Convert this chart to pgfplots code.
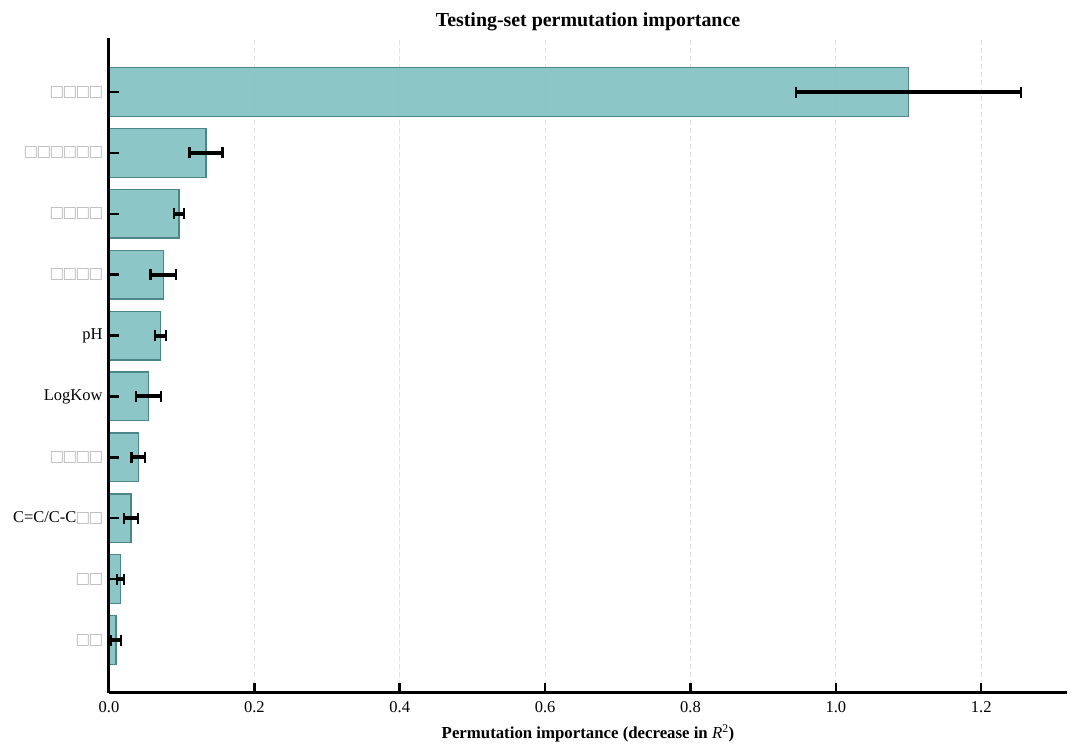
\documentclass[border=0pt]{standalone}
\usepackage{pgfplots}
\pgfplotsset{compat=1.18}
\usepackage{fontspec}
\setmainfont{Liberation Serif}
\newfontfamily\dejavu{DejaVu Sans}
\definecolor{barfill}{RGB}{128,192,192}
\definecolor{baredge}{RGB}{74,134,138}
\definecolor{gridc}{RGB}{226,226,226}
\definecolor{tofuc}{RGB}{185,185,185}
\newcommand{\tofu}{\makebox[13pt]{\textcolor{tofuc}{\dejavu\fontsize{15.5}{15}\selectfont □}}}
\begin{document}
\begin{tikzpicture}
\path[use as bounding box] (0,0) rectangle (1080pt,755pt);
\begin{axis}[
  at={(109pt,62pt)}, anchor=south west,
  scale only axis, width=958pt, height=655pt,
  xmin=0, xmax=1.318, ymin=-0.87, ymax=9.887,
  xbar, bar width=0.8,
  axis x line*=bottom, axis y line*=left,
  axis line style={line width=3pt, black, -},
  every outer x axis line/.append style={line width=3pt},
  every outer y axis line/.append style={line width=3pt},
  axis on top,
  clip=false,
  xtick={0,0.2,0.4,0.6,0.8,1.0,1.2},
  /pgf/number format/assume math mode=true,
  ytick={0,1,2,3,4,5,6,7,8,9},
  yticklabels={{\tofu\tofu},{\tofu\tofu},{C=C/C-C\tofu\tofu},{\tofu\tofu\tofu\tofu},{LogKow},{pH},{\tofu\tofu\tofu\tofu},{\tofu\tofu\tofu\tofu},{\tofu\tofu\tofu\tofu\tofu\tofu},{\tofu\tofu\tofu\tofu}},
  tick label style={font=\fontsize{16.5}{19}\selectfont, black},
  xticklabel style={yshift=-5pt, /pgf/number format/.cd, fixed, fixed zerofill, precision=1},
  yticklabel style={xshift=-3pt},
  tick align=inside, major tick length=10pt,
  tick style={line width=2.5pt, black},
  minor tick num=0,
  xlabel={Permutation importance (decrease in {\mdseries\itshape R}\textsuperscript{\mdseries 2})},
  xlabel style={font=\fontsize{16.8}{20}\selectfont\bfseries, yshift=-5pt},
  title={Testing-set permutation importance},
  title style={font=\fontsize{19.9}{23}\selectfont\bfseries, yshift=-2pt},
]
\pgfplotsinvokeforeach{0.2,0.4,0.6,0.8,1.0,1.2}{
  \draw[gridc, line width=1pt, dash pattern=on 5pt off 3pt] (axis cs:#1,-0.87) -- (axis cs:#1,9.887);
}
\addplot[xbar, fill=barfill, fill opacity=0.9, draw=baredge, line width=1.3pt,
  error bars/.cd, x dir=both, x explicit,
  error bar style={line width=4pt, black, opacity=1},
  error mark=|,
  error mark options={mark size=5.5pt, line width=2.2pt, black}]
coordinates {
  (0.0096,0) +- (0.0064,0)
  (0.0156,1) +- (0.0048,0)
  (0.0303,2) +- (0.0099,0)
  (0.0403,3) +- (0.0094,0)
  (0.0545,4) +- (0.0170,0)
  (0.0710,5) +- (0.0073,0)
  (0.0746,6) +- (0.0174,0)
  (0.0963,7) +- (0.0065,0)
  (0.1334,8) +- (0.0227,0)
  (1.1000,9) +- (0.1550,0)
};
\end{axis}
\end{tikzpicture}
\end{document}
